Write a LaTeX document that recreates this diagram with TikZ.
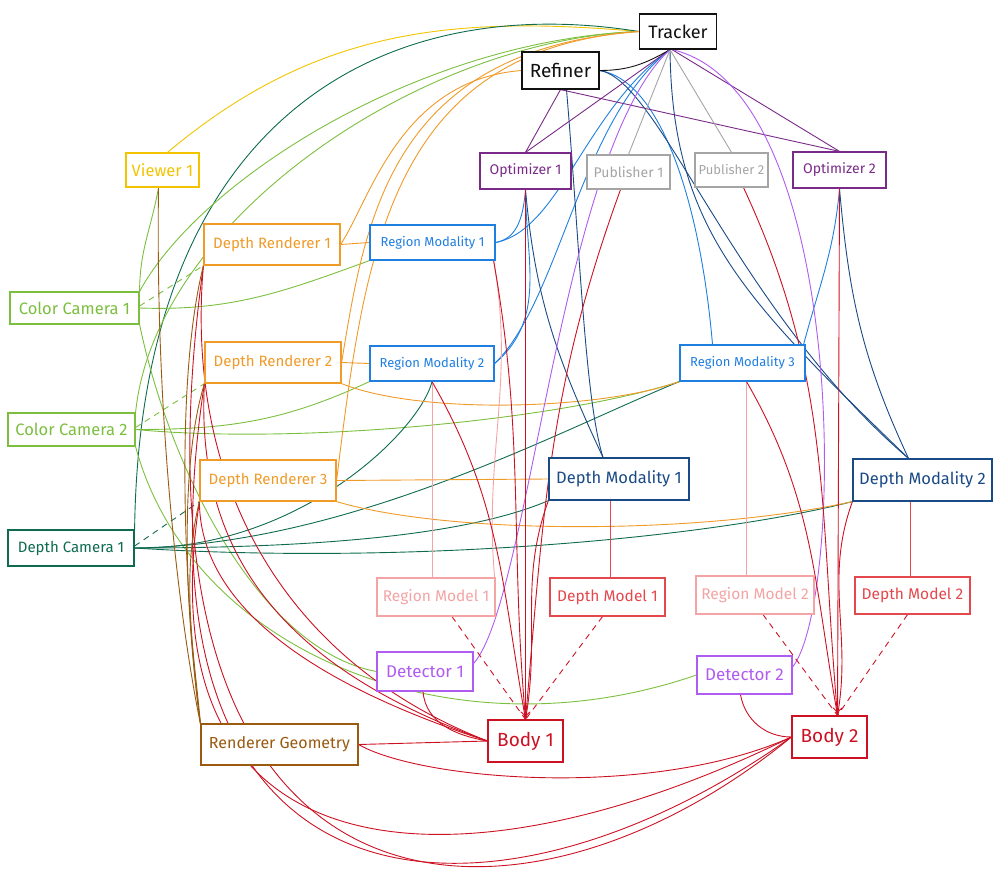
\documentclass[tikz,border=0pt]{standalone}
\usepackage{fontspec}
\setmainfont{Fira Sans}
\usepackage{tikz}
\usetikzlibrary{arrows.meta}
\definecolor{trkc}{HTML}{111111}
\definecolor{vwr}{HTML}{F2C400}
\definecolor{cam}{HTML}{7CBF3F}
\definecolor{dcam}{HTML}{0E6B4F}
\definecolor{drend}{HTML}{F09A28}
\definecolor{rmod}{HTML}{1F7FE0}
\definecolor{dmod}{HTML}{1A4A85}
\definecolor{optc}{HTML}{7A2A88}
\definecolor{pubc}{HTML}{A5A5A5}
\definecolor{rgmdl}{HTML}{F4A4A4}
\definecolor{dpmdl}{HTML}{E4474C}
\definecolor{bodyc}{HTML}{CC1122}
\definecolor{detc}{HTML}{B05CF0}
\definecolor{rgeo}{HTML}{9A5A10}
\newcommand{\fs}[1]{\fontsize{#1}{#1}\selectfont}
\pgfdeclarelayer{bg}
\pgfsetlayers{bg,main}
\tikzset{
  blk/.style={draw=#1, text=#1, fill=white, line width=1.2pt, inner sep=1pt, font=\fs{15}},
  wire/.style={draw=#1, line width=0.9pt},
  dwire/.style={draw=#1, line width=0.9pt, dash pattern=on 6pt off 5pt},
}

\begin{document}
\begin{tikzpicture}[x=1pt,y=1pt]
\useasboundingbox (0,0) rectangle (1000,-880);

\node[blk=trkc, minimum width=77, minimum height=35, font=\fs{18}] (trk) at (678,-31.5) {Tracker};
\node[blk=trkc, minimum width=77, minimum height=37, font=\fs{19}] (ref) at (560.5,-70.5) {Refiner};
\node[blk=vwr, minimum width=73, minimum height=34, font=\fs{16.5}] (viewer) at (162.5,-170) {Viewer 1};
\node[blk=optc, minimum width=91, minimum height=36, font=\fs{14}] (opt1) at (525.5,-171) {Optimizer 1};
\node[blk=pubc, minimum width=83, minimum height=34, font=\fs{14}] (pub1) at (628.5,-172) {Publisher 1};
\node[blk=pubc, minimum width=73, minimum height=34, font=\fs{13}] (pub2) at (731.5,-170) {Publisher 2};
\node[blk=optc, minimum width=93, minimum height=36, font=\fs{14}] (opt2) at (839.5,-170) {Optimizer 2};
\node[blk=drend, minimum width=136, minimum height=41] (dr1) at (272,-244.5) {Depth Renderer 1};
\node[blk=rmod, minimum width=125, minimum height=35, font=\fs{13}] (rm1) at (432.5,-242.5) {Region Modality 1};
\node[blk=cam, minimum width=129, minimum height=32, font=\fs{16.5}] (cc1) at (74.5,-308) {Color Camera 1};
\node[blk=drend, minimum width=136, minimum height=41] (dr2) at (273,-362.5) {Depth Renderer 2};
\node[blk=rmod, minimum width=124, minimum height=35, font=\fs{13}] (rm2) at (432,-363.5) {Region Modality 2};
\node[blk=cam, minimum width=127, minimum height=33, font=\fs{16.5}] (cc2) at (71.5,-429.5) {Color Camera 2};
\node[blk=drend, minimum width=136, minimum height=41] (dr3) at (268,-480.5) {Depth Renderer 3};
\node[blk=dcam, minimum width=126, minimum height=36] (dc1) at (71,-548) {Depth Camera 1};
\node[blk=rmod, minimum width=125, minimum height=36, font=\fs{13}] (rm3) at (742.5,-363) {Region Modality 3};
\node[blk=dmod, minimum width=140, minimum height=42, font=\fs{16.5}] (dm1) at (619,-479) {Depth Modality 1};
\node[blk=dmod, minimum width=139, minimum height=42, font=\fs{16.5}] (dm2) at (922.5,-480) {Depth Modality 2};
\node[blk=rgmdl, minimum width=118, minimum height=38, font=\fs{15.5}] (rgm1) at (436,-597) {Region Model 1};
\node[blk=dpmdl, minimum width=115, minimum height=38, font=\fs{15.5}] (dpm1) at (607.5,-597) {Depth Model 1};
\node[blk=rgmdl, minimum width=118, minimum height=38, font=\fs{15.5}] (rgm2) at (755,-595) {Region Model 2};
\node[blk=dpmdl, minimum width=115, minimum height=37, font=\fs{15.5}] (dpm2) at (912.5,-595.5) {Depth Model 2};
\node[blk=detc, minimum width=96, minimum height=39, font=\fs{17}] (det1) at (425,-671.5) {Detector 1};
\node[blk=detc, minimum width=95, minimum height=38, font=\fs{17}] (det2) at (744.5,-675) {Detector 2};
\node[blk=bodyc, minimum width=75, minimum height=42, font=\fs{19}] (body1) at (525.5,-741) {Body 1};
\node[blk=bodyc, minimum width=75, minimum height=42, font=\fs{19}] (body2) at (829.5,-737) {Body 2};
\node[blk=rgeo, minimum width=157, minimum height=41, font=\fs{16}] (rg) at (279.5,-744.5) {Renderer Geometry};

\begin{pgfonlayer}{bg}
% viewer and cameras to tracker
\draw[wire=vwr] ([xshift=5]viewer.north) to[out=40,in=175] (trk.west);
\draw[wire=dcam] (dc1.north east) .. controls (140,-120) and (380,10) .. (trk.west);
\draw[wire=cam] (cc1.north east) .. controls (200,-180) and (420,-40) .. (trk.west);
\draw[wire=cam] (cc2.north east) .. controls (155,-220) and (420,-40) .. (trk.west);
\draw[wire=cam] (cc1.north east) to[out=90,in=260] ([xshift=-4]viewer.south);
% color cameras
\draw[wire=cam] (cc1.east) to[out=-2,in=200] (rm1.south west);
\draw[dwire=cam] ([yshift=2]cc1.east) -- (dr1.south west);
\draw[wire=cam] (cc1.south east) .. controls (170,-470) and (260,-650) .. (det1.west);
\draw[wire=cam] (cc2.east) to[out=0,in=205] (rm2.south west);
\draw[wire=cam] (cc2.east) .. controls (300,-445) and (560,-420) .. (rm3.south west);
\draw[dwire=cam] ([yshift=2]cc2.east) -- (dr2.south west);
\draw[wire=cam] (cc2.south east) .. controls (190,-650) and (450,-760) .. (det2.west);
% depth camera
\draw[dwire=dcam] ([yshift=2]dc1.east) -- (dr3.south west);
\draw[wire=dcam] (dc1.east) .. controls (300,-550) and (420,-430) .. (rm2.south);
\draw[wire=dcam] (dc1.east) .. controls (350,-545) and (560,-430) .. (rm3.south west);
\draw[wire=dcam] (dc1.east) .. controls (350,-548) and (480,-530) .. (dm1.south west);
\draw[wire=dcam] (dc1.east) .. controls (400,-565) and (700,-540) .. (dm2.south west);
% depth renderers
\draw[wire=drend] (dr1.east) -- (rm1.west);
\draw[wire=drend] (dr2.east) -- (rm2.west);
\draw[wire=drend] (dr3.east) -- (dm1.west);
\draw[wire=drend] (dr2.south east) .. controls (420,-415) and (600,-410) .. (rm3.south west);
\draw[wire=drend] (dr3.south east) .. controls (450,-535) and (700,-535) .. (dm2.south west);
\draw[wire=drend] (dr1.east) .. controls (370,-200) and (400,-80) .. (ref.west);
\draw[wire=drend] (dr2.east) .. controls (365,-220) and (390,-50) .. (trk.west);
\draw[wire=drend] (dr3.east) .. controls (365,-250) and (390,-50) .. (trk.west);
% region modalities
\draw[wire=rmod] (rm1.east) to[out=10,in=265] (opt1.south);
\draw[wire=rmod] (rm2.east) to[out=40,in=270] (opt1.south);
\draw[wire=rmod] (rm1.east) .. controls (560,-230) and (585,-110) .. ([xshift=-8]trk.south);
\draw[wire=rmod] (rm2.east) .. controls (560,-300) and (580,-120) .. ([xshift=-8]trk.south);
\draw[wire=rmod] ([xshift=-30]rm3.north) .. controls (700,-200) and (660,-80) .. (ref.east);
\draw[wire=rmod] ([xshift=-2]rm3.north east) to[out=75,in=265] (opt2.south);
% depth modalities
\draw[wire=dmod] (opt1.south) to[out=-85,in=115] ([xshift=-16]dm1.north);
\draw[wire=dmod] ([xshift=6]ref.south) .. controls (580,-250) and (585,-400) .. ([xshift=-16]dm1.north);
\draw[wire=dmod] (opt2.south) to[out=-85,in=115] ([xshift=-14]dm2.north);
\draw[wire=dmod] (ref.east) .. controls (660,-80) and (735,-310) .. ([xshift=-14]dm2.north);
\draw[wire=dmod] ([xshift=-8]trk.south) .. controls (672,-230) and (745,-300) .. ([xshift=-14]dm2.north);
% tracker and refiner
\draw[wire=optc] ([xshift=-8]trk.south) -- (opt1.north);
\draw[wire=optc] ([xshift=-6]trk.south) -- (opt2.north);
\draw[wire=optc] (ref.south) -- (opt1.north);
\draw[wire=optc] (ref.south) -- (opt2.north);
\draw[wire=pubc] ([xshift=-8]trk.south) -- (pub1.north);
\draw[wire=pubc] ([xshift=-8]trk.south) -- (pub2.north);
\draw[wire=trkc] (ref.east) to[out=0,in=210] ([xshift=-8]trk.south);
\draw[wire=detc] ([xshift=-8]trk.south) .. controls (560,-150) and (530,-600) .. ([yshift=8]det1.east);
\draw[wire=detc] ([xshift=-6]trk.south) .. controls (850,-90) and (845,-600) .. ([yshift=8]det2.east);
% models
\draw[wire=rgmdl] (rm2.south) -- (rm2.south |- rgm1.north);
\draw[wire=rgmdl] ([xshift=-2]rm1.south east) to[out=-80,in=95] ([xshift=-1]rgm1.north east);
\draw[wire=rgmdl] ([xshift=4]rm3.south) -- ([xshift=4]rm3.south |- rgm2.north);
\draw[wire=dpmdl] ([xshift=-9]dm1.south) -- ([xshift=-9]dm1.south |- dpm1.north);
\draw[wire=dpmdl] ([xshift=-12]dm2.south) -- ([xshift=-12]dm2.south |- dpm2.north);
% bodies
\draw[wire=bodyc, -{To[length=8pt,width=10pt]}] (opt1.south) -- (body1.north);
\draw[wire=bodyc, -{To[length=8pt,width=10pt]}] (opt2.south) -- ([xshift=8]body2.north);
\draw[wire=bodyc] ([xshift=-8]pub1.south) to[out=250,in=85] (body1.north);
\draw[wire=bodyc] ([xshift=12]pub2.south) to[out=-65,in=95] ([xshift=8]body2.north);
\draw[wire=bodyc] ([xshift=-2]rm1.south east) to[out=-80,in=95] (body1.north);
\draw[wire=bodyc] (rm2.south) to[out=-60,in=100] (body1.north);
\draw[wire=bodyc] (dm1.south west) to[out=250,in=80] (body1.north);
\draw[wire=bodyc] ([xshift=4]rm3.south) to[out=-60,in=100] ([xshift=8]body2.north);
\draw[wire=bodyc] (dm2.south west) to[out=250,in=80] ([xshift=8]body2.north);
\draw[dwire=bodyc] ([xshift=16]rgm1.south) -- (body1.north);
\draw[dwire=bodyc] ([xshift=-5]dpm1.south) -- (body1.north);
\draw[dwire=bodyc] ([xshift=8]rgm2.south) -- ([xshift=8]body2.north);
\draw[dwire=bodyc] ([xshift=-5]dpm2.south) -- ([xshift=8]body2.north);
\draw[wire=bodyc] ([xshift=-2]det1.south) to[out=-85,in=170] (body1.west);
\draw[wire=bodyc] ([xshift=-4]det2.south) to[out=-80,in=180] (body2.west);
\draw[wire=bodyc] (rg.east) -- (body1.west);
\draw[wire=bodyc] (rg.east) .. controls (420,-780) and (650,-800) .. (body2.west);
\draw[wire=bodyc] (dr1.south west) .. controls (185,-480) and (280,-660) .. (body1.west);
\draw[wire=bodyc] (dr2.south west) .. controls (195,-560) and (290,-670) .. (body1.west);
\draw[wire=bodyc] (dr3.south west) .. controls (200,-600) and (300,-680) .. (body1.west);
\draw[wire=bodyc] (dr1.south west) .. controls (110,-950) and (520,-960) .. (body2.west);
\draw[wire=bodyc] (dr2.south west) .. controls (120,-940) and (500,-945) .. (body2.west);
\draw[wire=bodyc] (dr3.south west) .. controls (140,-890) and (470,-895) .. (body2.west);
% renderer geometry
\draw[wire=rgeo] ([xshift=-4]viewer.south) .. controls (155,-450) and (185,-650) .. (rg.north west);
\draw[wire=rgeo] (dr1.south west) .. controls (170,-400) and (190,-650) .. (rg.north west);
\draw[wire=rgeo] (dr2.south west) .. controls (175,-480) and (190,-650) .. (rg.north west);
\draw[wire=rgeo] (dr3.south west) .. controls (180,-580) and (195,-660) .. (rg.north west);
\end{pgfonlayer}
\end{tikzpicture}
\end{document}
